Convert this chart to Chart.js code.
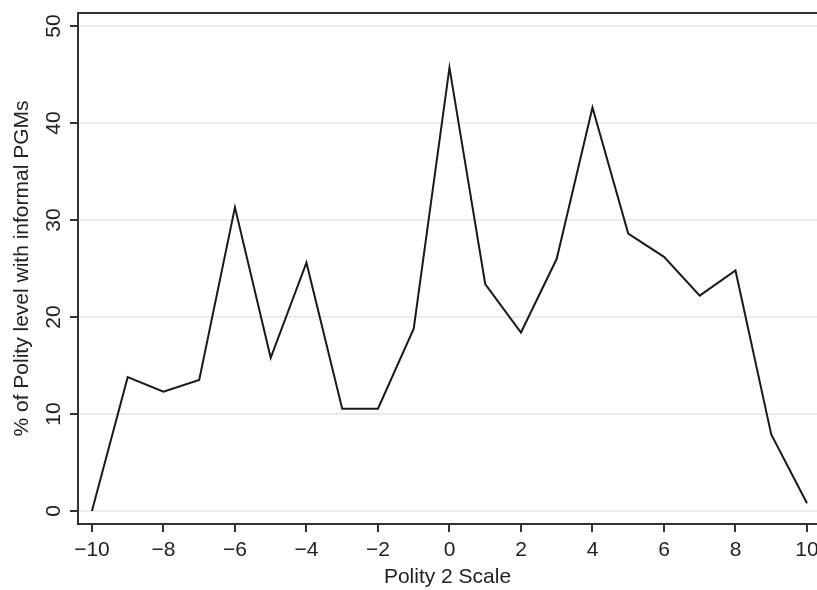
<!DOCTYPE html>
<html>
<head>
<meta charset="utf-8">
<script src="https://cdn.jsdelivr.net/npm/chart.js@4"></script>
<style>
  html, body { margin: 0; padding: 0; background: #fff; overflow: hidden; }
  #wrap { width: 817px; height: 590px; }
</style>
</head>
<body>
<div id="wrap"><canvas id="chart"></canvas></div>
<script>
// polity 2 scale values
const polity = [-10, -9, -8, -7, -6, -5, -4, -3, -2, -1, 0, 1, 2, 3, 4, 5, 6, 7, 8, 9, 10];
// % of polity level with informal PGMs
const pctInformal = [0, 13.8, 12.3, 13.5, 31.3, 15.8, 25.6, 10.55, 10.55, 18.8, 45.7, 23.4, 18.4, 26.0, 41.6, 28.6, 26.2, 22.2, 24.8, 7.9, 0.8];

const xTicks = [-10, -8, -6, -4, -2, 0, 2, 4, 6, 8, 10];
const yTicks = [0, 10, 20, 30, 40, 50];

const points = polity.map((x, i) => ({ x: x, y: pctInformal[i] }));
const fontFamily = "'Liberation Sans', Arial, Helvetica, sans-serif";

// top frame line + rotated y tick labels
const framePlugin = {
  id: "frame",
  afterDraw(chart) {
    const ctx = chart.ctx;
    const area = chart.chartArea;
    ctx.save();
    ctx.strokeStyle = "#333";
    ctx.lineWidth = 2;
    ctx.beginPath();
    ctx.moveTo(area.left - 1, area.top);
    ctx.lineTo(area.right, area.top);
    ctx.stroke();

    const ys = chart.scales.y;
    ctx.fillStyle = "#222";
    ctx.font = "21px " + fontFamily;
    ctx.textAlign = "center";
    ctx.textBaseline = "middle";
    yTicks.forEach(v => {
      const py = ys.getPixelForValue(v);
      ctx.save();
      ctx.translate(54, py);
      ctx.rotate(-Math.PI / 2);
      ctx.fillText(String(v), 0, 0);
      ctx.restore();
    });
    ctx.restore();
  }
};

new Chart(document.getElementById("chart"), {
  type: "line",
  data: {
    datasets: [{
      data: points,
      borderColor: "#1a1a1a",
      borderWidth: 2,
      pointRadius: 0,
      tension: 0,
      fill: false
    }]
  },
  options: {
    responsive: true,
    maintainAspectRatio: false,
    animation: false,
    layout: { padding: { top: 13, right: 0, left: 0, bottom: 0 } },
    plugins: { legend: { display: false }, tooltip: { enabled: false } },
    scales: {
      x: {
        type: "linear",
        min: -10.39,
        max: 10.28,
        afterBuildTicks: s => { s.ticks = xTicks.map(v => ({ value: v })); },
        afterFit: s => { s.height = 66; s.paddingLeft = 0; s.paddingRight = 0; },
        border: { display: true, color: "#333", width: 2 },
        grid: { drawOnChartArea: false, drawTicks: true, tickLength: 8, color: "#333", lineWidth: 2 },
        ticks: {
          color: "#222",
          font: { size: 21, family: fontFamily },
          padding: 6,
          maxRotation: 0,
          callback: v => (v < 0 ? "\u2212" + Math.abs(v) : String(v))
        },
        title: {
          display: true,
          text: "Polity 2 Scale",
          color: "#222",
          font: { size: 21, family: fontFamily },
          padding: { top: 4, bottom: 0 }
        }
      },
      y: {
        type: "linear",
        min: -1.34,
        max: 51.34,
        afterBuildTicks: s => { s.ticks = yTicks.map(v => ({ value: v })); },
        afterFit: s => { s.width = 78; },
        border: { display: true, color: "#333", width: 2 },
        grid: { drawOnChartArea: true, drawTicks: true, tickLength: 8, color: "#e6eef0", tickColor: "#333", lineWidth: 2 },
        ticks: { callback: () => "", padding: 0 },
        title: {
          display: true,
          text: "% of Polity level with informal PGMs",
          color: "#222",
          font: { size: 21, family: fontFamily },
          padding: { top: 10, bottom: 0 }
        }
      }
    }
  },
  plugins: [framePlugin]
});
</script>
</body>
</html>
